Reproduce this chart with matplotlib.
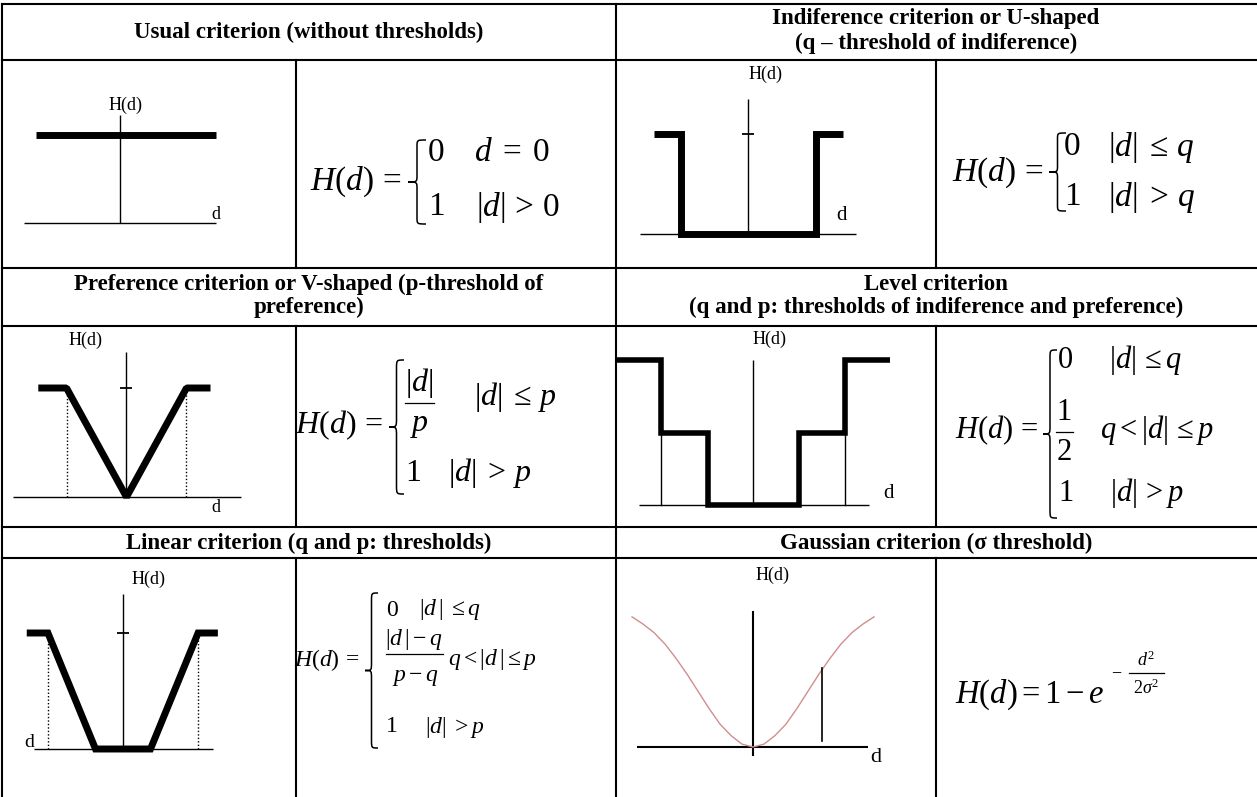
"""
Table of PROMETHEE preference criteria: six generalised criteria,
each with a small sketch of H(d) and its defining formula.
"""

import matplotlib.pyplot as plt
from matplotlib.path import Path
from matplotlib.patches import PathPatch

plt.rcParams["font.family"] = ["Liberation Serif", "DejaVu Serif"]
plt.rcParams["mathtext.fontset"] = "custom"
plt.rcParams["mathtext.rm"] = "Liberation Serif"
plt.rcParams["mathtext.it"] = "Liberation Serif:italic"
plt.rcParams["mathtext.bf"] = "Liberation Serif:bold"

WIDTH_PX: int = 1257
HEIGHT_PX: int = 797
DPI: int = 100

# --- data: shapes of H(d), d in threshold units, H in [0, 1] ---
USUAL_D: list[float] = [-0.875, 1.0]
USUAL_H: list[float] = [1.0, 1.0]

U_SHAPE_D: list[float] = [-1.4, -1.0, -1.0, 1.0, 1.0, 1.4]
U_SHAPE_H: list[float] = [1.0, 1.0, 0.0, 0.0, 1.0, 1.0]

V_SHAPE_D: list[float] = [-1.47, -1.0, 0.0, 1.0, 1.4]
V_SHAPE_H: list[float] = [1.0, 1.0, 0.0, 1.0, 1.0]
V_SHAPE_P: list[float] = [-1.0, 1.0]

LEVEL_D: list[float] = [-3.1, -2.03, -2.03, -1.0, -1.0,
                        1.0, 1.0, 2.03, 2.03, 3.0]
LEVEL_H: list[float] = [1.0, 1.0, 0.5, 0.5, 0.0,
                        0.0, 0.5, 0.5, 1.0, 1.0]
LEVEL_P: list[float] = [-2.03, 2.03]

LINEAR_D: list[float] = [-3.5, -2.73, -1.0, 1.0, 2.73, 3.45]
LINEAR_H: list[float] = [1.0, 1.0, 0.0, 0.0, 1.0, 1.0]
LINEAR_P: list[float] = [-2.73, 2.73]

GAUSS_D: list[float] = [-2.2, -2.0, -1.8, -1.6, -1.4, -1.2, -1.0, -0.8,
                        -0.6, -0.4, -0.2, 0.0, 0.2, 0.4, 0.6, 0.8, 1.0,
                        1.2, 1.4, 1.6, 1.8, 2.0, 2.2]
GAUSS_H: list[float] = [0.91, 0.86, 0.80, 0.72, 0.62, 0.51, 0.39, 0.27,
                        0.16, 0.08, 0.02, 0.0, 0.02, 0.08, 0.16, 0.27, 0.39,
                        0.51, 0.62, 0.72, 0.80, 0.86, 0.91]
GAUSS_SIGMA_D: float = 1.25
GAUSS_SIGMA_H: list[float] = [0.04, 0.55]

HEADERS: list[tuple[str, float, float]] = [
    ("Usual criterion (without thresholds)", 309, 32),
    ("Indiference criterion or U-shaped", 936, 18),
    ("(q \u2013 threshold of indiference)", 936, 43),
    ("Preference criterion or V-shaped (p-threshold of", 309, 284),
    ("preference)", 309, 307),
    ("Level criterion", 936, 284),
    ("(q and p: thresholds of indiference and preference)", 936, 307),
    ("Linear criterion (q and p: thresholds)", 309, 543),
    ("Gaussian criterion (\u03c3 threshold)", 936, 543),
]

# --- layout (pixels, y downwards) ---
COL_EDGES: list[float] = [2, 296, 616, 936]
ROW_EDGES: list[float] = [4, 60, 268, 326, 527, 558]

THICK = 5.0
THIN = 1.0
GRID_LW = 1.5
HEADER_SIZE = 16.5
LABEL_SIZE = 13


def make_panel(fig, cell, origin, scale):
    """Inset axes over a table cell, data units mapped to pixels."""
    left, top, right, bottom = cell
    x0, y0 = origin
    sx, sy = scale
    ax = fig.add_axes([left / WIDTH_PX, 1 - bottom / HEIGHT_PX,
                       (right - left) / WIDTH_PX, (bottom - top) / HEIGHT_PX])
    ax.set_xlim((left - x0) / sx, (right - x0) / sx)
    ax.set_ylim((y0 - bottom) / sy, (y0 - top) / sy)
    ax.axis("off")
    ax.patch.set_alpha(0)
    return ax


def draw_axes(ax, hspan, vspan, tick=None, lw=THIN):
    ax.plot(hspan, [0, 0], color="black", lw=lw, solid_capstyle="butt")
    ax.plot([0, 0], vspan, color="black", lw=lw, solid_capstyle="butt")
    if tick is not None:
        ax.plot(0, tick, marker="_", markersize=9, mew=1.3, color="black")


def label(ax, text, x, y, size=LABEL_SIZE):
    ax.text(x, y, text, fontsize=size, ha="center", va="center")


def brace(ax, x, y_top, y_bot, w):
    """Thin left curly brace in pixel coordinates."""
    xm = x + w * 0.5
    ym = (y_top + y_bot) / 2
    r = min(w * 0.6, (y_bot - y_top) * 0.08)
    verts = [
        (x + w, y_top), (xm, y_top), (xm, y_top), (xm, y_top + r),
        (xm, ym - r),
        (xm, ym), (xm, ym), (x, ym),
        (xm, ym), (xm, ym), (xm, ym + r),
        (xm, y_bot - r),
        (xm, y_bot), (xm, y_bot), (x + w, y_bot),
    ]
    codes = [Path.MOVETO, Path.CURVE4, Path.CURVE4, Path.CURVE4,
             Path.LINETO,
             Path.CURVE4, Path.CURVE4, Path.CURVE4,
             Path.CURVE4, Path.CURVE4, Path.CURVE4,
             Path.LINETO,
             Path.CURVE4, Path.CURVE4, Path.CURVE4]
    ax.add_patch(PathPatch(Path(verts, codes), fill=False, lw=1.1,
                           edgecolor="black"))


def put(ax, text, x, y, size, ha="left"):
    ax.text(x, y, text, fontsize=size, ha=ha, va="center")


def frac_bar(ax, x1, x2, y):
    ax.plot([x1, x2], [y, y], color="black", lw=0.9)


def draw_table(ax):
    for y in ROW_EDGES:
        ax.plot([COL_EDGES[0], WIDTH_PX], [y, y], color="black", lw=GRID_LW)
    ax.plot([COL_EDGES[0]] * 2, [ROW_EDGES[0], HEIGHT_PX],
            color="black", lw=GRID_LW)
    ax.plot([COL_EDGES[2]] * 2, [ROW_EDGES[0], HEIGHT_PX],
            color="black", lw=GRID_LW)
    body_rows = [(60, 268), (326, 527), (558, HEIGHT_PX)]
    for top, bottom in body_rows:
        for x in (COL_EDGES[1], COL_EDGES[3]):
            ax.plot([x, x], [top, bottom], color="black", lw=GRID_LW)
    for text, x, y in HEADERS:
        ax.text(x, y, text, fontsize=HEADER_SIZE, fontweight="bold",
                ha="center", va="center")


def draw_formulas(ax):
    # usual
    put(ax, r"$H(d)\,=$", 310, 182, 24)
    brace(ax, 408, 140, 224, 18)
    put(ax, "0", 428, 153, 24)
    put(ax, r"$d\;=\;0$", 474, 153, 24)
    put(ax, "1", 428, 207, 24)
    put(ax, r"$|d|\,>\,0$", 476, 207, 24)
    # U-shaped
    put(ax, r"$H(d)\,=$", 952, 173, 24)
    brace(ax, 1049, 133, 211, 17)
    put(ax, "0", 1064, 147, 24)
    put(ax, r"$|d|\;\leq\,q$", 1108, 147, 24)
    put(ax, "1", 1064, 197, 24)
    put(ax, r"$|d|\;>\,q$", 1108, 197, 24)
    # V-shaped
    put(ax, r"$H(d)\,=$", 295, 425, 23)
    brace(ax, 389, 360, 494, 15)
    put(ax, r"$|d|$", 419, 383, 23, ha="center")
    frac_bar(ax, 405, 434, 403)
    put(ax, r"$p$", 419, 425, 23, ha="center")
    put(ax, r"$|d|\;\leq\,p$", 474, 397, 23)
    put(ax, "1", 405, 473, 23)
    put(ax, r"$|d|\;>\,p$", 448, 473, 23)
    # level
    put(ax, r"$H(d)\,=$", 955, 430, 22)
    brace(ax, 1043, 350, 518, 14)
    put(ax, "0", 1058, 360, 22)
    put(ax, r"$|d|\,\leq q$", 1109, 360, 22)
    put(ax, "1", 1064, 412, 22, ha="center")
    frac_bar(ax, 1056, 1073, 432)
    put(ax, "2", 1064, 452, 22, ha="center")
    put(ax, r"$q<|d|\,\leq p$", 1100, 430, 22)
    put(ax, "1", 1058, 493, 22)
    put(ax, r"$|d|\,>p$", 1110, 493, 22)
    # linear
    put(ax, r"$H(d)\,=$", 294, 660, 17)
    brace(ax, 365, 593, 748, 13)
    put(ax, "0", 386, 610, 17)
    put(ax, r"$|d\,|\;\leq q$", 419, 610, 17)
    put(ax, r"$|d\,|-q$", 414, 639, 17, ha="center")
    frac_bar(ax, 386, 443, 654)
    put(ax, r"$p-q$", 415, 678, 17, ha="center")
    put(ax, r"$q<|d\,|\leq p$", 448, 660, 17)
    put(ax, "1", 386, 727, 17)
    put(ax, r"$|d|\;>p$", 425, 727, 17)
    # gaussian
    put(ax, r"$H(d)=1-e$", 955, 695, 23.5)
    put(ax, r"$-$", 1111, 672, 13)
    put(ax, r"$d^2$", 1146, 660, 13, ha="center")
    frac_bar(ax, 1129, 1164, 673)
    put(ax, r"$2\sigma^2$", 1146, 688, 13, ha="center")


def draw_sketches(fig):
    ax1 = make_panel(fig, (2, 60, 296, 268), (120, 223), (96, 88))
    draw_axes(ax1, [-1.0, 1.0], [0, 1.23])
    ax1.plot(USUAL_D, USUAL_H, color="black", lw=THICK,
             solid_capstyle="butt")
    label(ax1, "H(d)", 0.06, 1.34)
    label(ax1, "d", 1.0, 0.1)

    ax2 = make_panel(fig, (616, 60, 936, 268), (748, 234), (67.5, 100))
    draw_axes(ax2, [-1.6, 1.6], [0, 1.35], tick=1.0)
    ax2.plot(U_SHAPE_D, U_SHAPE_H, color="black", lw=THICK,
             solid_joinstyle="miter", solid_capstyle="butt")
    label(ax2, "H(d)", 0.26, 1.6)
    label(ax2, "d", 1.38, 0.19, size=15)

    ax3 = make_panel(fig, (2, 326, 296, 527), (126.5, 497), (60, 109))
    draw_axes(ax3, [-1.89, 1.91], [0, 1.33], tick=1.0)
    for d in V_SHAPE_P:
        ax3.plot([d, d], [0, 1], color="black", lw=1.0, ls=(0, (1, 1.5)))
    ax3.plot(V_SHAPE_D, V_SHAPE_H, color="black", lw=THICK,
             solid_joinstyle="bevel", solid_capstyle="butt")
    label(ax3, "H(d)", -0.68, 1.44)
    label(ax3, "d", 1.49, -0.1)

    ax4 = make_panel(fig, (616, 326, 936, 527), (753, 505), (45.5, 145))
    draw_axes(ax4, [-2.5, 2.55], [0, 1.0])
    for d in LEVEL_P:
        ax4.plot([d, d], [0, 0.5], color="black", lw=THIN)
    ax4.plot(LEVEL_D, LEVEL_H, color="black", lw=4.0,
             solid_joinstyle="miter", solid_capstyle="butt")
    label(ax4, "H(d)", 0.37, 1.14)
    label(ax4, "d", 2.97, 0.076, size=15)

    ax5 = make_panel(fig, (2, 558, 296, 797), (123, 749), (27.5, 116))
    draw_axes(ax5, [-3.24, 3.27], [0, 1.34], tick=1.0)
    for d in LINEAR_P:
        ax5.plot([d, d], [0, 1], color="black", lw=1.0, ls=(0, (1, 1.5)))
    ax5.plot(LINEAR_D, LINEAR_H, color="black", lw=THICK,
             solid_joinstyle="miter", solid_capstyle="butt")
    label(ax5, "H(d)", 0.91, 1.46)
    label(ax5, "d", -3.42, 0.06, size=14)

    ax6 = make_panel(fig, (616, 558, 936, 797), (753, 747), (55, 143))
    draw_axes(ax6, [-2.11, 2.09], [-0.06, 0.95], lw=1.5)
    ax6.plot(GAUSS_D, GAUSS_H, color="#cf8f8f", lw=1.0)
    ax6.plot([GAUSS_SIGMA_D] * 2, GAUSS_SIGMA_H, color="black", lw=1.2)
    label(ax6, "H(d)", 0.36, 1.2)
    label(ax6, "d", 2.24, -0.07, size=16)


def create_table() -> None:
    fig = plt.figure(figsize=(WIDTH_PX / DPI, HEIGHT_PX / DPI), dpi=DPI)
    ax = fig.add_axes([0, 0, 1, 1])
    ax.set_xlim(0, WIDTH_PX)
    ax.set_ylim(HEIGHT_PX, 0)
    ax.axis("off")

    draw_table(ax)
    draw_formulas(ax)
    draw_sketches(fig)

    fig.savefig("out.png", dpi=DPI, facecolor="white")


if __name__ == "__main__":
    create_table()
